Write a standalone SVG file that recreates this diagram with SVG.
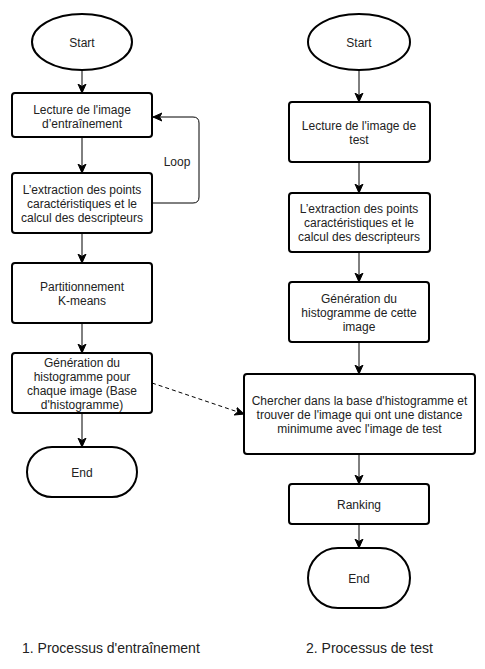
<svg xmlns="http://www.w3.org/2000/svg" width="485" height="669" viewBox="0 0 485 669">
<style>
.n{fill:#fff;stroke:#000;stroke-width:2}
.t{font-family:"Liberation Sans",Arial,sans-serif;font-size:12px;fill:#222;text-anchor:middle}
.c{fill:none;stroke:#000;stroke-width:1}
.cap{font-family:"Liberation Sans",Arial,sans-serif;font-size:14px;fill:#222}
</style>
<defs>
<marker id="a" markerUnits="userSpaceOnUse" markerWidth="10" markerHeight="10" viewBox="0 0 10 10" refX="9" refY="5" orient="auto">
<path d="M0,1 L9,5 L0,9 L2.5,5 Z" fill="#000" stroke="#000" stroke-width="1"/>
</marker>
</defs>
<rect width="485" height="669" fill="#fff"/>
<g id="connectors">
<line class="c" x1="82" y1="71" x2="82" y2="93" marker-end="url(#a)"/>
<line class="c" x1="82" y1="137" x2="82" y2="173" marker-end="url(#a)"/>
<line class="c" x1="82" y1="233" x2="82" y2="263" marker-end="url(#a)"/>
<line class="c" x1="82" y1="323" x2="82" y2="353" marker-end="url(#a)"/>
<line class="c" x1="82" y1="413" x2="82" y2="447" marker-end="url(#a)"/>
<path class="c" d="M152,203 H193 Q199,203 199,197 V123 Q199,117 193,117 H153" marker-end="url(#a)"/>
<line class="c" x1="152" y1="383" x2="244" y2="414" stroke-dasharray="4,3" marker-end="url(#a)"/>
<line class="c" x1="359" y1="71" x2="359" y2="102" marker-end="url(#a)"/>
<line class="c" x1="359" y1="162" x2="359" y2="193" marker-end="url(#a)"/>
<line class="c" x1="359" y1="252" x2="359" y2="282" marker-end="url(#a)"/>
<line class="c" x1="359" y1="342" x2="359" y2="374" marker-end="url(#a)"/>
<line class="c" x1="359" y1="454" x2="359" y2="484" marker-end="url(#a)"/>
<line class="c" x1="359" y1="524" x2="359" y2="548" marker-end="url(#a)"/>
<text class="t" x="177" y="166">Loop</text>
</g>
<g id="start1"><ellipse class="n" cx="82" cy="42" rx="50" ry="28"/><text class="t" x="82" y="46.5">Start</text></g>
<g id="read1"><rect class="n" x="12" y="93" width="140" height="44" rx="3"/><text class="t" x="82" y="113.5">Lecture de l'image</text><text class="t" x="82" y="127.5">d’entraînement</text></g>
<g id="extract1"><rect class="n" x="12" y="173" width="140" height="60" rx="3"/><text class="t" x="82" y="193.5">L’extraction des points</text><text class="t" x="82" y="207.5">caractéristiques et le</text><text class="t" x="82" y="221.5">calcul des descripteurs</text></g>
<g id="kmeans"><rect class="n" x="12" y="263" width="140" height="60" rx="3"/><text class="t" x="82" y="290.5">Partitionnement</text><text class="t" x="82" y="304.5">K-means</text></g>
<g id="hist1"><rect class="n" x="12" y="353" width="140" height="60" rx="3"/><text class="t" x="82" y="366.5">Génération du</text><text class="t" x="82" y="380.5">histogramme pour</text><text class="t" x="82" y="394.5">chaque image (Base</text><text class="t" x="82" y="408.5">d'histogramme)</text></g>
<g id="end1"><rect class="n" x="27" y="447" width="110" height="50" rx="25"/><text class="t" x="82" y="476.5">End</text></g>
<g id="start2"><ellipse class="n" cx="359" cy="42" rx="51" ry="28"/><text class="t" x="359" y="46.5">Start</text></g>
<g id="read2"><rect class="n" x="289" y="102" width="141" height="60" rx="3"/><text class="t" x="359" y="129.5">Lecture de l'image de</text><text class="t" x="359" y="143.5">test</text></g>
<g id="extract2"><rect class="n" x="289" y="193" width="141" height="59" rx="3"/><text class="t" x="359" y="213">L’extraction des points</text><text class="t" x="359" y="227">caractéristiques et le</text><text class="t" x="359" y="241">calcul des descripteurs</text></g>
<g id="hist2"><rect class="n" x="289" y="282" width="140" height="60" rx="3"/><text class="t" x="359" y="302.5">Génération du</text><text class="t" x="359" y="316.5">histogramme de cette</text><text class="t" x="359" y="330.5">image</text></g>
<g id="search"><rect class="n" x="244" y="374" width="231" height="80" rx="3"/><text class="t" x="359.5" y="404.5">Chercher dans la base d'histogramme et</text><text class="t" x="359.5" y="418.5">trouver de l'image qui ont une distance</text><text class="t" x="359.5" y="432.5">minimume avec l'image de test</text></g>
<g id="ranking"><rect class="n" x="289" y="484" width="140" height="40" rx="3"/><text class="t" x="359" y="508.5">Ranking</text></g>
<g id="end2"><rect class="n" x="308" y="548" width="102" height="60" rx="30"/><text class="t" x="359" y="582.5">End</text></g>
<text class="cap" x="22" y="653">1. Processus d'entraînement</text>
<text class="cap" x="306" y="653">2. Processus de test</text>
</svg>
